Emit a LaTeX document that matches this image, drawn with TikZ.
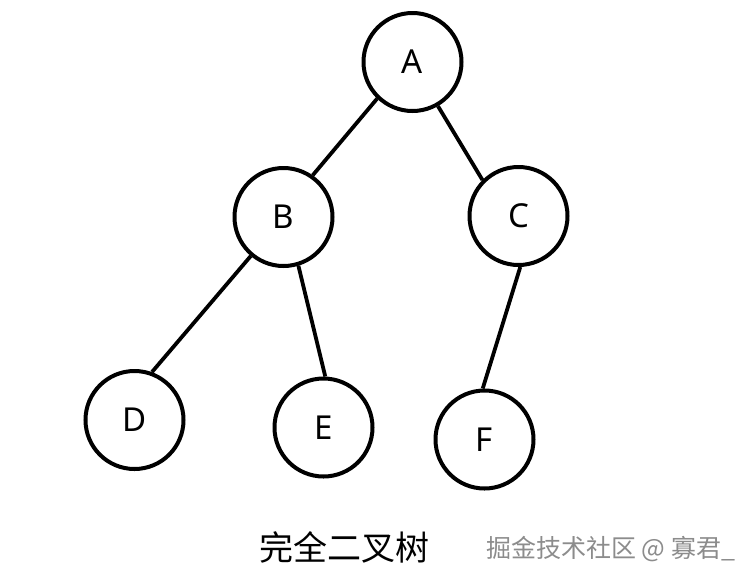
\documentclass[tikz,border=0pt]{standalone}
\usepackage{fontspec}
\setmainfont{Noto Sans}
\newfontfamily\cjk{Noto Sans CJK SC}
\begin{document}
\begin{tikzpicture}[x=1pt,y=-1pt,
  treenode/.style={draw=black, line width=4pt, circle, minimum size=98pt, inner sep=0pt, font=\fontsize{33}{37}\selectfont},
  edge/.style={draw=black, line width=3.8pt}]
\useasboundingbox[fill=white] (0,0) rectangle (754,582);
\node[treenode] (A) at (412.5,62) {A};
\node[treenode] (B) at (283.5,217) {B};
\node[treenode] (C) at (518.5,216) {C};
\node[treenode] (D) at (134.5,420) {D};
\node[treenode] (E) at (323.5,427.5) {E};
\node[treenode] (F) at (484.5,439.5) {F};
\draw[edge] (A.-134) -- (B.55);
\draw[edge] (A.-60) -- (C.135);
\draw[edge] (B.-130) -- (D.70);
\draw[edge] (B.-73) -- (E.88);
\draw[edge] (C.-88) -- (F.92);
\node[font=\cjk\fontsize{34}{38}\selectfont] (title) at (344,547) {完全二叉树};
\node[font=\cjk\fontsize{25}{29}\selectfont, text=black!45, anchor=west, inner sep=0pt] (wm) at (486,549) {掘金技术社区 @ 寡君\_};
\end{tikzpicture}
\end{document}
